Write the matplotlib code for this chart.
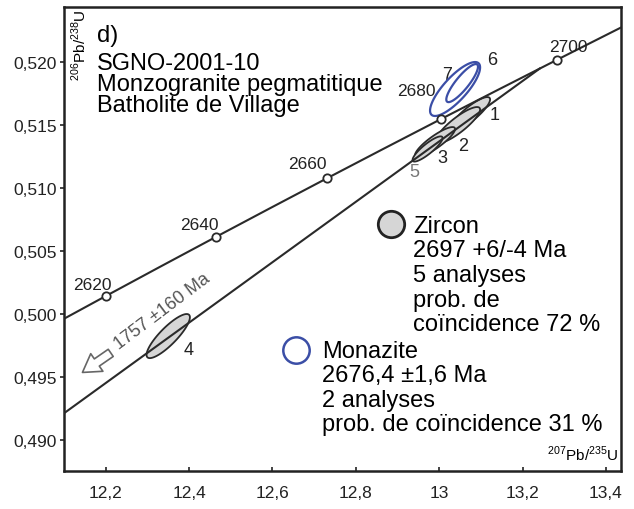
import numpy as np
import matplotlib.pyplot as plt
from matplotlib.patches import Polygon, FancyArrowPatch
from matplotlib.ticker import FuncFormatter

plt.rcParams['font.family'] = ['Liberation Sans', 'DejaVu Sans']
plt.rcParams['mathtext.fontset'] = 'custom'
plt.rcParams['mathtext.rm'] = 'Liberation Sans'

# decay constants (1/Ma)
L238 = 1.55125e-4
L235 = 9.8485e-4

# concordia age marks (Ma)
ages = [2620, 2640, 2660, 2680, 2700]
age_off = [(-14, 11), (-16, 13), (-20, 15), (-25, 28), (11, 13)]

# discordia intercepts (Ma)
lower_int = 1757
upper_int = 2697

# zircon analyses: 207Pb/235U, 2s, 206Pb/238U, 2s, rho
zr_names = ['1', '2', '3', '5', '4']
zr_x = [13.074, 13.045, 12.990, 12.972, 12.350]
zr_sx = [0.048, 0.053, 0.048, 0.036, 0.052]
zr_y = [0.51587, 0.51500, 0.51365, 0.51310, 0.49825]
zr_sy = [0.00135, 0.00143, 0.00119, 0.00100, 0.00175]
zr_rho = [0.86, 0.86, 0.87, 0.87, 0.85]
zr_off = [(25, 0), (5, -20), (7, -15), (-13, -23), (20, -13)]

# monazite analyses
mz_names = ['6', '7']
mz_x = [13.055, 13.038]
mz_sx = [0.038, 0.060]
mz_y = [0.51833, 0.51786]
mz_sy = [0.00151, 0.00214]
mz_rho = [0.86, 0.80]
mz_off = [(30, 24), (-8, 15)]

blue = '#3b4ea6'
dark = '#2a2a2a'


def concordia(t):
    return np.exp(L235 * t) - 1, np.exp(L238 * t) - 1


def ellipse_pts(x, sx, y, sy, rho, n=120):
    t = np.linspace(0, 2 * np.pi, n)
    ex = x + sx * np.cos(t)
    ey = y + sy * (rho * np.cos(t) + np.sqrt(1 - rho ** 2) * np.sin(t))
    return np.column_stack([ex, ey])


fig = plt.figure(figsize=(6.34, 5.10), dpi=100)
ax = fig.add_axes([64 / 634, 1 - 472 / 510, 557 / 634, 464 / 510])
ax.set_xlim(12.1, 13.436)
ax.set_ylim(0.48754, 0.52437)

# ellipses
for i in range(len(zr_x)):
    pts = ellipse_pts(zr_x[i], zr_sx[i], zr_y[i], zr_sy[i], zr_rho[i])
    ax.add_patch(Polygon(pts, closed=True, fc='#d6d6d6', ec=dark, lw=1.3, zorder=2))
    ax.annotate(zr_names[i], (zr_x[i], zr_y[i]), xytext=zr_off[i], textcoords='offset pixels',
                ha='center', va='center', fontsize=13,
                color='#777777' if zr_names[i] == '5' else '#222222')
for i in range(len(mz_x)):
    pts = ellipse_pts(mz_x[i], mz_sx[i], mz_y[i], mz_sy[i], mz_rho[i])
    ax.add_patch(Polygon(pts, closed=True, fc='none', ec=blue, lw=1.6, zorder=4))
    ax.annotate(mz_names[i], (mz_x[i], mz_y[i]), xytext=mz_off[i], textcoords='offset pixels',
                ha='center', va='center', fontsize=13, color='#222222')

# concordia curve
tc = np.linspace(2590, 2740, 300)
cx, cy = concordia(tc)
ax.plot(cx, cy, color=dark, lw=1.5, zorder=3)

# discordia
dx, dy = concordia(np.array([lower_int, upper_int]))
ax.plot(dx, dy, color=dark, lw=1.5, zorder=3)

# age marks
ax_, ay_ = concordia(np.array(ages))
ax.plot(ax_, ay_, 'o', ms=6, mfc='white', mec=dark, mew=1.3, zorder=5)
for a, px, py, off in zip(ages, ax_, ay_, age_off):
    ax.annotate(str(a), (px, py), xytext=off, textcoords='offset pixels',
                ha='center', va='center', fontsize=12.5, color='#222222')

# arrow toward lower intercept
arr = FancyArrowPatch((0.088, 0.258), (0.029, 0.209), transform=ax.transAxes,
                      arrowstyle='simple,head_length=0.9,head_width=1.1,tail_width=0.45',
                      mutation_scale=14, fc='white', ec='#666666', lw=1.2, zorder=5)
ax.add_patch(arr)
ax.text(0.177, 0.345, '1757 \u00b1160 Ma', transform=ax.transAxes, rotation=37,
        ha='center', va='center', fontsize=13, color='#555555', rotation_mode='anchor')

# title block
ax.text(0.059, 0.963, 'd)', transform=ax.transAxes, ha='left', va='top', fontsize=17)
ax.text(0.059, 0.902, 'SGNO-2001-10\nMonzogranite pegmatitique\nBatholite de Village',
        transform=ax.transAxes, ha='left', va='top', fontsize=17, linespacing=0.93)

# legend
ax.plot([0.587], [0.532], 'o', ms=19, mfc='#d6d6d6', mec='#222222', mew=2,
        transform=ax.transAxes, zorder=6)
ax.text(0.6266, 0.552, 'Zircon\n2697 +6/-4 Ma\n5 analyses\nprob. de\nco\u00efncidence 72 %',
        transform=ax.transAxes, ha='left', va='top', fontsize=17, linespacing=1.15)
ax.plot([0.4165], [0.261], 'o', ms=19, mfc='none', mec=blue, mew=1.8,
        transform=ax.transAxes, zorder=6)
ax.text(0.463, 0.283, 'Monazite\n2676,4 \u00b11,6 Ma\n2 analyses\nprob. de co\u00efncidence 31 %',
        transform=ax.transAxes, ha='left', va='top', fontsize=17, linespacing=1.15)

# axis labels inside
ax.text(0.027, 0.996, r'$^{206}$Pb/$^{238}$U', transform=ax.transAxes, rotation=90,
        ha='center', va='top', fontsize=11)
ax.text(0.995, 0.037, r'$^{207}$Pb/$^{235}$U', transform=ax.transAxes,
        ha='right', va='center', fontsize=11)

# ticks
ax.set_xticks([12.2, 12.4, 12.6, 12.8, 13.0, 13.2, 13.4])
ax.set_yticks([0.490, 0.495, 0.500, 0.505, 0.510, 0.515, 0.520])
ax.xaxis.set_major_formatter(FuncFormatter(lambda v, p: ('%g' % round(v, 2)).replace('.', ',')))
ax.yaxis.set_major_formatter(FuncFormatter(lambda v, p: ('%.3f' % v).replace('.', ',')))
ax.tick_params(axis='x', direction='in', length=3, width=1.2, labelsize=12.5, pad=10, colors='#222222')
ax.tick_params(axis='y', direction='out', length=3, width=1.2, labelsize=12.5, pad=2, colors='#222222')
for s in ax.spines.values():
    s.set_linewidth(1.8)
    s.set_color('#222222')

fig.savefig('out.png', dpi=100)
